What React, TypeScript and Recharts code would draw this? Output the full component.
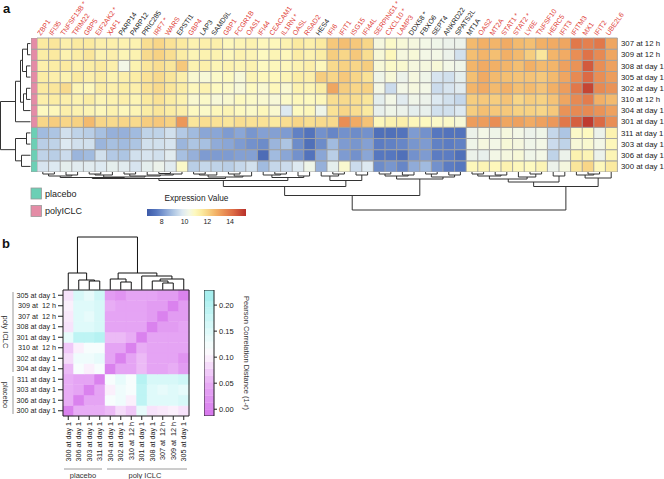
import React from 'react';
import { BarChart, Bar, Cell, XAxis, YAxis, ComposedChart, Line, ReferenceArea } from 'recharts';

const FONT = '"Liberation Sans", Arial, Helvetica, sans-serif';

// ---------------- Panel a data ----------------
const genes = ['ZBP1','IFI35','TNFSF13B *','TRIM22','GBP5','EIF2AK2 *','XAF1','PARP14','PARP12','PRIC285','IRF7 *','WARS','EPSTI1','GBP4','LAP3','SAMD9L','GBP1','FCGR1B','OAS1','IFI44','CEACAM1','IL1RN *','OASL','RSAD2','HES4','IFI6','IFIT1','ISG15','IFI44L','SERPING1 *','CXCL10 *','LAMP3','DDX58 *','FBXO6','SEPT4','ANKRD22','SPATS2L','MT1A','OAS2','MT2A','STAT1 *','STAT2 *','LY6E','TNFSF10','HERC5','IFIT3','IFITM3','MX1','IFIT2','UBE2L6'];
const blackGenes = ['PARP14','PARP12','PRIC285','EPSTI1','LAP3','SAMD9L','HES4','DDX58 *','FBXO6','SEPT4','ANKRD22','SPATS2L','MT1A'];
const rowLabelsA = ['307 at 12 h','309 at 12 h','308 at day 1','305 at day 1','302 at day 1','310 at 12 h','304 at day 1','301 at day 1','311 at day 1','303 at day 1','306 at day 1','300 at day 1'];
const rowGroupsA = ['polyICLC','polyICLC','polyICLC','polyICLC','polyICLC','polyICLC','polyICLC','polyICLC','placebo','placebo','placebo','placebo'];

const expr307 = [11.5,11.6,11.3,11.5,11.5,11.3,11.3,11.2,11.2,11.8,12.0,11.7,11.5,11.2,11.3,11.3,11.0,11.1,11.2,11.0,11.0,11.2,11.5,11.3,11.5,12.3,12.5,12.3,12.0,10.5,10.8,10.6,10.5,10.4,10.3,10.2,10.2,12.6,12.8,12.7,12.9,12.6,12.5,12.8,12.9,13.0,14.0,13.8,14.0,13.0];
const expr309 = [11.4,11.5,11.2,11.4,11.6,11.2,11.3,11.1,11.2,11.9,12.1,11.8,11.4,11.1,11.2,11.2,11.0,11.2,11.1,10.9,11.1,11.0,11.4,11.2,11.4,12.2,12.0,12.3,11.8,10.6,11.0,10.5,10.6,10.4,10.4,10.2,9.6,12.5,12.7,12.5,12.8,12.6,12.2,11.6,12.7,12.9,13.5,14.1,13.6,13.0];
const expr308 = [11.3,11.4,11.5,11.3,11.4,11.5,11.3,10.4,11.2,11.6,11.8,11.6,12.3,11.2,11.3,11.1,11.2,11.1,11.2,10.9,11.0,11.0,11.2,11.3,11.0,11.9,12.1,12.0,12.2,10.6,10.8,10.7,10.5,10.5,10.6,10.4,10.3,12.7,12.9,12.8,12.7,12.5,12.8,12.6,12.7,13.1,13.4,14.6,13.5,13.1];
const expr305 = [11.4,11.3,11.2,11.5,11.3,11.4,11.2,11.3,11.4,11.7,11.9,11.6,11.3,10.7,10.6,10.8,10.9,10.6,11.1,11.0,11.0,11.1,11.4,11.3,12.2,12.0,12.3,12.0,11.7,10.3,10.6,10.2,10.5,10.3,9.7,9.6,10.0,12.5,12.9,12.6,12.5,12.4,12.4,12.3,12.6,13.0,13.6,14.3,13.5,13.2];
const expr302 = [11.5,11.6,11.9,11.1,11.0,11.4,11.3,11.4,11.3,11.7,11.9,11.6,11.4,11.0,11.2,10.9,10.8,10.6,10.9,10.7,11.0,10.7,11.2,11.1,11.4,13.0,12.2,12.0,12.1,10.4,9.5,10.4,10.5,10.4,9.5,9.7,9.9,12.7,12.9,12.6,12.8,12.5,12.6,12.4,12.8,13.2,14.0,15.0,13.6,13.4];
const expr310 = [11.3,11.4,11.3,11.2,11.4,11.1,11.2,11.3,11.1,11.5,11.7,11.4,11.2,10.7,10.8,10.6,10.7,10.9,10.8,10.7,10.6,10.8,11.0,10.9,11.0,11.8,11.9,11.8,11.6,10.0,10.4,9.9,10.3,10.2,9.8,9.6,9.4,12.2,12.3,12.2,12.4,12.0,12.2,12.1,12.4,13.0,13.6,13.9,12.8,12.6];
const expr304 = [10.9,11.0,11.3,11.2,11.1,11.0,11.2,11.0,11.1,11.4,11.6,11.4,11.3,10.9,10.8,11.0,11.1,10.9,10.8,11.0,10.7,9.8,10.9,11.0,10.3,11.7,12.0,11.8,11.5,10.1,10.3,10.2,10.0,10.1,9.6,9.6,9.8,12.2,12.5,12.3,12.3,12.1,12.1,12.0,12.3,13.4,13.6,13.6,13.4,13.1];
const expr301 = [12.0,12.2,12.0,12.1,12.6,12.0,11.9,12.0,11.9,12.2,12.3,12.1,13.3,11.6,11.8,11.7,11.6,11.8,11.7,11.7,11.5,11.8,12.0,11.8,11.9,11.9,13.5,12.9,12.4,11.0,11.2,11.3,11.0,10.9,10.8,10.8,10.6,13.2,13.2,13.5,13.0,13.1,12.9,13.1,13.3,14.0,14.5,15.2,14.3,13.5];
const expr311 = [8.8,9.0,9.6,9.3,9.2,8.9,8.6,8.6,8.8,9.3,9.3,9.6,9.1,8.8,8.4,8.4,8.2,8.4,8.1,8.3,8.3,8.2,7.7,7.4,8.0,7.8,8.0,7.9,8.0,7.3,7.3,7.4,8.2,8.0,7.5,7.4,7.4,10.2,10.4,10.3,10.5,10.4,10.2,10.3,9.4,9.0,10.8,10.9,10.2,11.2];
const expr303 = [9.2,9.3,9.8,9.6,9.6,8.7,8.9,8.8,9.0,9.6,9.6,9.7,8.7,9.0,8.9,8.5,8.4,8.2,8.0,7.9,8.7,9.0,7.9,7.3,7.9,8.8,8.2,8.1,8.3,7.6,7.7,7.8,8.1,8.2,7.7,7.6,7.7,10.3,10.5,10.4,10.6,10.5,10.3,10.4,9.5,9.3,10.6,10.7,10.4,11.0];
const expr306 = [9.3,9.2,9.5,8.7,8.8,9.6,9.1,9.0,9.6,9.7,9.6,9.9,8.9,8.6,8.2,8.2,8.2,8.3,8.3,7.2,8.8,8.4,8.0,7.4,8.4,9.2,8.2,8.0,8.4,7.5,7.5,7.3,8.0,8.2,7.6,7.6,7.3,10.2,10.1,10.4,10.5,10.6,10.3,10.4,9.3,10.2,11.2,11.1,10.2,11.1];
const expr300 = [9.7,9.8,10.0,9.9,9.9,9.8,10.0,9.9,9.7,10.0,10.2,9.9,10.8,9.2,9.4,9.3,9.2,9.4,9.6,8.8,9.4,9.5,9.8,10.3,8.6,10.0,10.7,9.5,9.8,7.9,8.1,7.8,8.5,8.8,8.0,7.6,7.5,11.0,11.1,11.0,11.2,11.0,10.9,11.1,10.2,10.5,11.6,12.0,11.0,11.5];
const exprValues = [expr307, expr309, expr308, expr305, expr302, expr310, expr304, expr301, expr311, expr303, expr306, expr300];

const exprStops: [number, string][] = [[6.7,'#3d5aa8'],[7.5,'#5677bf'],[8.2,'#7e9bd1'],[9.0,'#adc5e3'],[9.8,'#dde9f1'],[10.4,'#f3f7e6'],[10.9,'#fdf9c0'],[11.5,'#fbeaa0'],[12.1,'#f7d283'],[12.8,'#f2b066'],[13.5,'#e98e55'],[14.3,'#dc6a44'],[15.4,'#b8302a']];
const exprDomain = [6.7, 15.4];
const exprTicks = [8, 10, 12, 14];

// dendrograms: [height, left, right]; leaves are indices
const rowTree: any = [30, [15, [10, [8, [3, 0, 1], [4, 2, 3]], [7, [4, 4, 5], 6]], 7], [15, [4, 8, 9], [9, 10, 11]]];
const colTree: any = [38,
  [23.5,
    [14.5,
      [8.5,
        [6.5,
          [5.5, [4, [2, 0, 1], [3, 2, 3]], [5, [3, [2, 4, 5], 6], [4, [2, 7, 8], [3, 9, [2, [1.5, 10, 11], 12]]]]],
          [5, [3, [2, 13, 14], 15], [4, [2, 16, 17], 18]]],
        [5.5, [3, 19, [2, 20, 21]], [4, 22, 23]]],
      [8.5, [4, 24, [2, 25, 26]], [3, 27, 28]]],
    [7, [4, [2, 29, 30], [3, 31, 32]], [5, [2, 33, 34], [3, 35, 36]]]],
  [14.5,
    [10, [7, [4, [2, 37, 38], [3, 39, 40]], [5, 41, [2, 42, 43]]], [4, 44, 45]],
    [6, [3, 46, [2, 47, 48]], 49]]];

// ---------------- Panel b data ----------------
const bLabels = ['300 at day 1','306 at day 1','303 at day 1','311 at day 1','304 at day 1','302 at day 1','310 at \u00a012 h','301 at day 1','308 at day 1','307 at \u00a012 h','309 at \u00a012 h','305 at day 1'];
const dist300 = [0, .05, .05, .05, .06, .085, .07, .14, .09, .095, .10, .09];
const dist306 = [.05, 0, .04, .04, .12, .13, .10, .19, .15, .15, .15, .16];
const dist303 = [.05, .04, 0, .04, .10, .13, .12, .19, .15, .14, .15, .14];
const dist311 = [.05, .04, .04, 0, .12, .14, .12, .20, .16, .16, .16, .17];
const dist304 = [.06, .12, .10, .12, 0, .04, .04, .06, .04, .04, .05, .03];
const dist302 = [.085, .13, .13, .14, .04, 0, .04, .06, .04, .04, .04, .02];
const dist310 = [.07, .10, .12, .12, .04, .04, 0, .05, .04, .04, .04, .04];
const dist301 = [.14, .19, .19, .20, .06, .06, .05, 0, .04, .04, .04, .04];
const dist308 = [.09, .15, .15, .16, .04, .04, .04, .04, 0, .03, .03, .04];
const dist307 = [.095, .15, .14, .16, .04, .04, .04, .04, .03, 0, .03, .03];
const dist309 = [.10, .15, .15, .16, .05, .04, .04, .04, .03, .03, 0, .03];
const dist305 = [.09, .16, .14, .17, .03, .02, .04, .04, .04, .03, .03, 0];
const distMatrix = [dist300, dist306, dist303, dist311, dist304, dist302, dist310, dist301, dist308, dist307, dist309, dist305];
const distStops: [number, string][] = [[-0.013,'#d672ec'],[0,'#da82ee'],[0.05,'#e8adf5'],[0.1,'#fbf0fc'],[0.115,'#fbfdfd'],[0.15,'#dffafa'],[0.2,'#b6f2f2'],[0.229,'#9eebeb']];
const distDomain = [-0.013, 0.229];
const distTicks = [0, 0.05, 0.1, 0.15, 0.2];
const distBandEdges = [-0.013, 0.0, 0.013, 0.026, 0.039, 0.052, 0.065, 0.078, 0.091, 0.104, 0.117, 0.13, 0.143, 0.156, 0.169, 0.182, 0.195, 0.208, 0.229];
const bTree: any = [53, [17, 0, [10, 1, [9, 2, 3]]], [17, [11, 4, [8, 5, 6]], [14, 7, [11, [9, 8, [7, 9, 10]], 11]]]];

const groupColors: Record<string, string> = { placebo: '#6ccfb5', polyICLC: '#e48ca6' };

// ---------------- helpers ----------------
function hexToRgb(h: string) {
  const n = parseInt(h.slice(1), 16);
  return [(n >> 16) & 255, (n >> 8) & 255, n & 255];
}
function scaleColor(stops: [number, string][], v: number) {
  if (v <= stops[0][0]) return stops[0][1];
  for (let i = 1; i < stops.length; i++) {
    if (v <= stops[i][0]) {
      const [v0, c0] = stops[i - 1];
      const [v1, c1] = stops[i];
      const t = (v - v0) / (v1 - v0);
      const a = hexToRgb(c0), b = hexToRgb(c1);
      return `rgb(${a.map((x, k) => Math.round(x + (b[k] - x) * t)).join(',')})`;
    }
  }
  return stops[stops.length - 1][1];
}

type Node = { p: number; h: number };
function buildLinks(tree: any, leafPos: (i: number) => number, vertical: boolean) {
  const links: { x: number; y: number }[][] = [];
  const walk = (n: any): Node => {
    if (typeof n === 'number') return { p: leafPos(n), h: 0 };
    const [h, l, r] = n;
    const a = walk(l), b = walk(r);
    if (vertical) {
      links.push([{ x: a.p, y: a.h }, { x: a.p, y: h }, { x: b.p, y: h }, { x: b.p, y: b.h }]);
    } else {
      links.push([{ x: a.h, y: a.p }, { x: h, y: a.p }, { x: h, y: b.p }, { x: b.h, y: b.p }]);
    }
    return { p: (a.p + b.p) / 2, h };
  };
  walk(tree);
  return links;
}

const Abs = ({ x, y, children }: any) => (
  <div style={{ position: 'absolute', left: x, top: y }}>{children}</div>
);

function Dendro({ links, width, height, xDomain, yDomain, xReversed = false, yReversed = false, color }: any) {
  return (
    <ComposedChart width={width} height={height} margin={{ top: 0, right: 0, bottom: 0, left: 0 }}>
      <XAxis type="number" dataKey="x" domain={xDomain} hide reversed={xReversed} />
      <YAxis type="number" domain={yDomain} hide reversed={yReversed} />
      {links.map((pts: any, i: number) => (
        <Line key={i} data={pts} dataKey="y" type="linear" stroke={color} strokeWidth={1}
          dot={false} activeDot={false} isAnimationActive={false} />
      ))}
    </ComposedChart>
  );
}

const GeneTick = (props: any) => {
  const { x, payload } = props;
  const name = payload.value as string;
  const fill = blackGenes.includes(name) ? '#222' : '#e0433a';
  const x0 = x - 2;
  const y0 = 36;
  return (
    <text x={x0} y={y0} transform={`rotate(-55, ${x0}, ${y0})`} fontSize={7} fill={fill}
      fontFamily={FONT} textAnchor="start">{name}</text>
  );
};

const RowTickA = (props: any) => {
  const { x, y, payload } = props;
  return (
    <text x={x} y={y} dy="0.35em" fontSize={7.8} fill="#222" fontFamily={FONT} textAnchor="start">
      {rowLabelsA[Math.round(11.5 - payload.value)]}
    </text>
  );
};

const RowTickB = (props: any) => {
  const { x, y, payload } = props;
  return (
    <text x={x} y={y} dy="0.35em" fontSize={7.2} fill="#222" fontFamily={FONT} textAnchor="end">
      {bLabels[Math.floor(payload.value)]}
    </text>
  );
};

const BTick = (props: any) => {
  const { x, y, payload } = props;
  return (
    <text x={x} y={y} transform={`rotate(-90, ${x}, ${y})`} dy="0.35em" fontSize={7.2} fill="#222"
      fontFamily={FONT} textAnchor="end">{payload.value}</text>
  );
};

const rowIdx = rowLabelsA.map((_, i) => i);
const heatData = genes.map((g) => {
  const o: any = { gene: g };
  rowIdx.forEach((r) => { o['r' + r] = 1; });
  return o;
});
const sideData = [(() => { const o: any = { name: 'group' }; rowIdx.forEach((r) => { o['r' + r] = 1; }); return o; })()];
const bIdx = bLabels.map((_, i) => i);
const bData = bLabels.map((l) => {
  const o: any = { name: l };
  bIdx.forEach((k) => { o['k' + k] = 1; });
  return o;
});
const rowTicks = rowIdx.map((r) => r + 0.5);

const rowLinks = buildLinks(rowTree, (i) => 11.5 - i, false);
const colLinks = buildLinks(colTree, (i) => i + 0.5, true);
const bLinks = buildLinks(bTree, (i) => i + 0.5, true);

const exprExtent = [{ x: exprDomain[0], y: 0 }, { x: exprDomain[1], y: 1 }];
const distExtent = [{ x: 0, y: distDomain[0] }, { x: 1, y: distDomain[1] }];

export default function App() {
  return (
    <div style={{ position: 'absolute', left: 0, top: 0, width: 664, height: 479, background: '#fff', overflow: 'hidden', fontFamily: FONT }}>
      {/* Heatmap a */}
      <Abs x={37} y={0}>
        <BarChart width={627} height={172} data={heatData} margin={{ top: 0, right: 0, bottom: 0, left: 0 }}
          barCategoryGap={0} barGap={0}>
          <XAxis dataKey="gene" orientation="top" height={38} interval={0} axisLine={false} tickLine={false} tick={<GeneTick />} />
          <YAxis type="number" orientation="right" domain={[0, 12]} ticks={rowTicks} interval={0} width={47}
            axisLine={false} tickLine={false} tickSize={2} tickMargin={2} tick={<RowTickA />} />
          {[...rowIdx].reverse().map((r) => (
            <Bar key={r} dataKey={'r' + r} stackId="s" isAnimationActive={false} stroke="#a0a0a0" strokeWidth={0.9}>
              {genes.map((g, c) => (
                <Cell key={c} fill={scaleColor(exprStops, exprValues[r][c])} stroke="#a0a0a0" strokeWidth={0.9} />
              ))}
            </Bar>
          ))}
        </BarChart>
      </Abs>

      {/* group side bar */}
      <Abs x={30.5} y={38}>
        <BarChart width={6.5} height={134} data={sideData} margin={{ top: 0, right: 0, bottom: 0, left: 0 }} barCategoryGap={0}>
          <XAxis dataKey="name" hide />
          <YAxis type="number" domain={[0, 12]} hide />
          {[...rowIdx].reverse().map((r) => (
            <Bar key={r} dataKey={'r' + r} stackId="s" isAnimationActive={false}>
              <Cell fill={groupColors[rowGroupsA[r]]} stroke="#a0a0a0" strokeWidth={0.8} />
            </Bar>
          ))}
        </BarChart>
      </Abs>

      {/* row dendrogram */}
      <Abs x={0} y={38}>
        <Dendro links={rowLinks} width={30.5} height={134} xDomain={[0, 30.5]} yDomain={[0, 12]} xReversed color="#333" />
      </Abs>

      {/* column dendrogram */}
      <Abs x={37} y={171.5}>
        <Dendro links={colLinks} width={580} height={39} xDomain={[0, 50]} yDomain={[0, 39]} yReversed color="#333" />
      </Abs>

      {/* expression colorbar */}
      <Abs x={147} y={208.5}>
        <ComposedChart width={99} height={20} margin={{ top: 0, right: 0, bottom: 0, left: 0 }}>
          <defs>
            <linearGradient id="exprGrad" x1="0" x2="1" y1="0" y2="0">
              {exprStops.map(([v, c], i) => (
                <stop key={i} offset={(v - exprDomain[0]) / (exprDomain[1] - exprDomain[0])} stopColor={c} />
              ))}
            </linearGradient>
          </defs>
          <XAxis type="number" dataKey="x" domain={exprDomain} ticks={exprTicks} height={13} axisLine={false} tickLine={false}
            tickSize={0} tickMargin={3} tick={{ fontSize: 7, fill: '#222', fontFamily: FONT }} />
          <YAxis type="number" domain={[0, 1]} hide />
          <Line data={exprExtent} dataKey="y" stroke="none" dot={false} activeDot={false} isAnimationActive={false} />
          <ReferenceArea x1={exprDomain[0]} x2={exprDomain[1]} y1={0} y2={1} fill="url(#exprGrad)" fillOpacity={1} stroke="none" />
        </ComposedChart>
      </Abs>

      {/* Panel b dendrogram */}
      <Abs x={63} y={236}>
        <Dendro links={bLinks} width={126} height={54} xDomain={[0, 12]} yDomain={[0, 54]} color="#111" />
      </Abs>

      {/* Panel b matrix */}
      <Abs x={0} y={289}>
        <BarChart width={194} height={175} data={bData} margin={{ top: 0, right: 0, bottom: 0, left: 0 }} barCategoryGap={0} barGap={0}>
          <XAxis xAxisId="top" dataKey="name" orientation="top" height={1} tick={false} tickLine={false} axisLine={{ stroke: '#222' }} />
          <XAxis dataKey="name" height={48} interval={0} tickSize={4} tickMargin={2}
            axisLine={{ stroke: '#222' }} tickLine={{ stroke: '#222' }} tick={<BTick />} />
          <YAxis type="number" domain={[0, 12]} ticks={rowTicks} interval={0} width={63} tickSize={5} tickMargin={2}
            axisLine={{ stroke: '#222' }} tickLine={{ stroke: '#222' }} tick={<RowTickB />} />
          <YAxis yAxisId="r" type="number" orientation="right" domain={[0, 12]} ticks={rowTicks} interval={0} width={5} tickSize={4}
            axisLine={{ stroke: '#222' }} tickLine={{ stroke: '#222' }} tickFormatter={() => ''} />
          {bIdx.map((k) => (
            <Bar key={k} dataKey={'k' + k} stackId="s" isAnimationActive={false}>
              {bIdx.map((c) => {
                const col = scaleColor(distStops, distMatrix[k][c]);
                return <Cell key={c} fill={col} stroke={col} strokeWidth={0.4} />;
              })}
            </Bar>
          ))}
        </BarChart>
      </Abs>

      {/* Panel b colorbar */}
      <Abs x={204} y={290}>
        <ComposedChart width={50} height={126} margin={{ top: 0, right: 0, bottom: 0, left: 0 }}>
          <XAxis type="number" dataKey="x" domain={[0, 1]} hide />
          <YAxis type="number" orientation="right" domain={distDomain} ticks={distTicks} width={40} tickSize={3} tickMargin={2}
            axisLine={false} tickLine={{ stroke: '#222' }} tickFormatter={(v: number) => v.toFixed(2)}
            tick={{ fontSize: 7.5, fill: '#222', fontFamily: FONT }} />
          <Line data={distExtent} dataKey="y" stroke="none" dot={false} activeDot={false} isAnimationActive={false} />
          {distBandEdges.slice(0, -1).map((lo, i) => {
            const hi = distBandEdges[i + 1];
            const c = scaleColor(distStops, (lo + hi) / 2);
            return <ReferenceArea key={i} x1={0} x2={1} y1={lo} y2={hi} fill={c} fillOpacity={1} stroke={c} strokeWidth={0.3} />;
          })}
          <ReferenceArea x1={0} x2={1} y1={distDomain[0]} y2={distDomain[1]} fill="none" stroke="#222" strokeWidth={1} />
        </ComposedChart>
      </Abs>

      {/* annotations */}
      <svg width={664} height={479} style={{ position: 'absolute', left: 0, top: 0, pointerEvents: 'none' }} fontFamily={FONT}>
        <text x={3} y={13} fontSize={13} fontWeight="bold" fill="#111">a</text>
        <text x={2} y={248} fontSize={13} fontWeight="bold" fill="#111">b</text>

        <rect x={31} y={188} width={10.5} height={11} fill={groupColors.placebo} stroke="#999" strokeWidth={0.8} />
        <text x={45} y={196.5} fontSize={9} fill="#222">placebo</text>
        <rect x={31} y={205.5} width={10.5} height={11} fill={groupColors.polyICLC} stroke="#999" strokeWidth={0.8} />
        <text x={45} y={214} fontSize={9} fill="#222">polyICLC</text>

        <text x={196.5} y={201} fontSize={8.3} fill="#222" textAnchor="middle">Expression Value</text>

        <line x1={13} y1={292} x2={13} y2={372} stroke="#9a9a9a" strokeWidth={1} />
        <line x1={13} y1={376} x2={13} y2={414} stroke="#9a9a9a" strokeWidth={1} />
        <text x={3} y={332} fontSize={7.5} fill="#333" textAnchor="middle" transform="rotate(90, 3, 332)">poly ICLC</text>
        <text x={3} y={395} fontSize={7.5} fill="#333" textAnchor="middle" transform="rotate(90, 3, 395)">placebo</text>

        <line x1={64} y1={469} x2={102} y2={469} stroke="#9a9a9a" strokeWidth={1} />
        <line x1={107} y1={469} x2={187} y2={469} stroke="#9a9a9a" strokeWidth={1} />
        <text x={83} y={478} fontSize={7.5} fill="#333" textAnchor="middle">placebo</text>
        <text x={145} y={478} fontSize={7.5} fill="#333" textAnchor="middle">poly ICLC</text>

        <text x={243.5} y={353} fontSize={7.5} fill="#333" textAnchor="middle" transform="rotate(90, 243.5, 353)">Pearson Correlation Distance (1-r)</text>
      </svg>
    </div>
  );
}
